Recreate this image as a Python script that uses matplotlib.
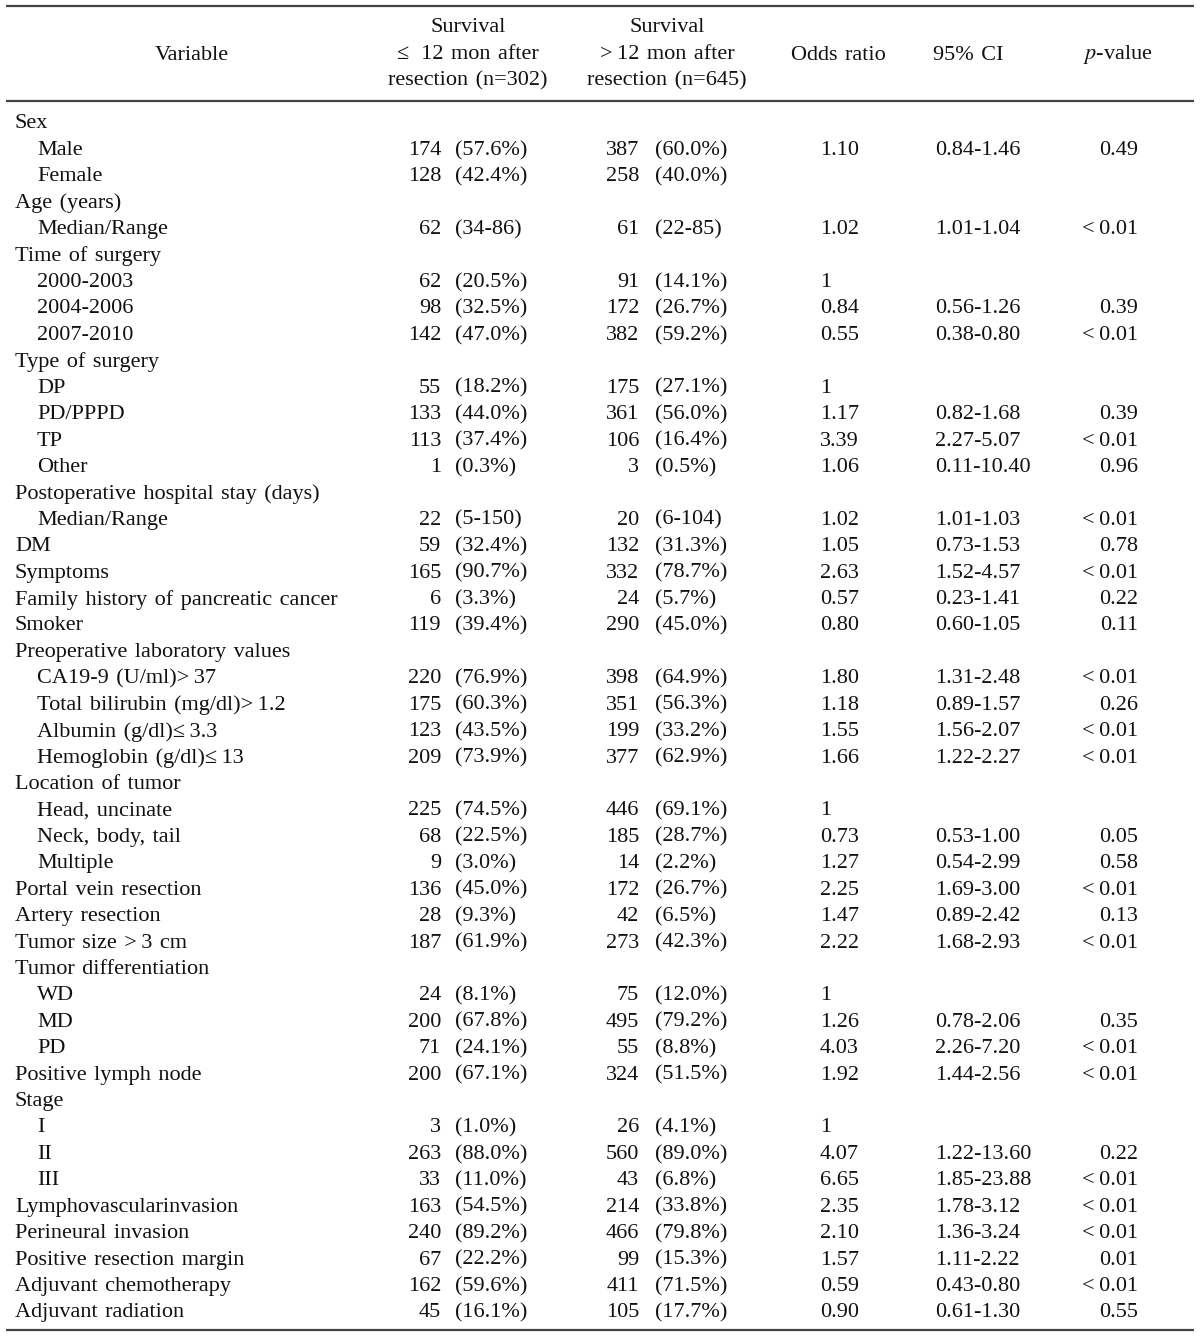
import matplotlib
matplotlib.use("Agg")
import matplotlib.pyplot as plt

plt.rcParams['font.family'] = ['Liberation Serif', 'DejaVu Serif']

# table content
labels = ["Sex", "Male", "Female", "Age (years)", "Median/Range", "Time of surgery",
          "2000-2003", "2004-2006", "2007-2010", "Type of surgery", "DP", "PD/PPPD", "TP", "Other",
          "Postoperative hospital stay (days)", "Median/Range", "DM", "Symptoms",
          "Family history of pancreatic cancer", "Smoker", "Preoperative laboratory values",
          "CA19-9 (U/ml)>37", "Total bilirubin (mg/dl)>1.2", "Albumin (g/dl)≤3.3",
          "Hemoglobin (g/dl)≤13", "Location of tumor", "Head, uncinate", "Neck, body, tail",
          "Multiple", "Portal vein resection", "Artery resection", "Tumor size >3 cm",
          "Tumor differentiation", "WD", "MD", "PD", "Positive lymph node", "Stage", "I", "II", "III",
          "Lymphovascularinvasion", "Perineural invasion", "Positive resection margin",
          "Adjuvant chemotherapy", "Adjuvant radiation"]
indent = [0, 1, 1, 0, 1, 0, 1, 1, 1, 0, 1, 1, 1, 1, 0, 1, 0, 0, 0, 0, 0, 1, 1, 1, 1, 0, 1, 1, 1,
          0, 0, 0, 0, 1, 1, 1, 0, 0, 1, 1, 1, 0, 0, 0, 0, 0]
n_short = ["", "174", "128", "", "62", "", "62", "98", "142", "", "55", "133", "113", "1", "", "22",
           "59", "165", "6", "119", "", "220", "175", "123", "209", "", "225", "68", "9", "136", "28",
           "187", "", "24", "200", "71", "200", "", "3", "263", "33", "163", "240", "67", "162", "45"]
p_short = ["", "(57.6%)", "(42.4%)", "", "(34-86)", "", "(20.5%)", "(32.5%)", "(47.0%)", "",
           "(18.2%)", "(44.0%)", "(37.4%)", "(0.3%)", "", "(5-150)", "(32.4%)", "(90.7%)", "(3.3%)",
           "(39.4%)", "", "(76.9%)", "(60.3%)", "(43.5%)", "(73.9%)", "", "(74.5%)", "(22.5%)",
           "(3.0%)", "(45.0%)", "(9.3%)", "(61.9%)", "", "(8.1%)", "(67.8%)", "(24.1%)", "(67.1%)",
           "", "(1.0%)", "(88.0%)", "(11.0%)", "(54.5%)", "(89.2%)", "(22.2%)", "(59.6%)", "(16.1%)"]
n_long = ["", "387", "258", "", "61", "", "91", "172", "382", "", "175", "361", "106", "3", "", "20",
          "132", "332", "24", "290", "", "398", "351", "199", "377", "", "446", "185", "14", "172",
          "42", "273", "", "75", "495", "55", "324", "", "26", "560", "43", "214", "466", "99", "411",
          "105"]
p_long = ["", "(60.0%)", "(40.0%)", "", "(22-85)", "", "(14.1%)", "(26.7%)", "(59.2%)", "",
          "(27.1%)", "(56.0%)", "(16.4%)", "(0.5%)", "", "(6-104)", "(31.3%)", "(78.7%)", "(5.7%)",
          "(45.0%)", "", "(64.9%)", "(56.3%)", "(33.2%)", "(62.9%)", "", "(69.1%)", "(28.7%)",
          "(2.2%)", "(26.7%)", "(6.5%)", "(42.3%)", "", "(12.0%)", "(79.2%)", "(8.8%)", "(51.5%)",
          "", "(4.1%)", "(89.0%)", "(6.8%)", "(33.8%)", "(79.8%)", "(15.3%)", "(71.5%)", "(17.7%)"]
odds = ["", "1.10", "", "", "1.02", "", "1", "0.84", "0.55", "", "1", "1.17", "3.39", "1.06", "",
        "1.02", "1.05", "2.63", "0.57", "0.80", "", "1.80", "1.18", "1.55", "1.66", "", "1", "0.73",
        "1.27", "2.25", "1.47", "2.22", "", "1", "1.26", "4.03", "1.92", "", "1", "4.07", "6.65",
        "2.35", "2.10", "1.57", "0.59", "0.90"]
ci = ["", "0.84-1.46", "", "", "1.01-1.04", "", "", "0.56-1.26", "0.38-0.80", "", "", "0.82-1.68",
      "2.27-5.07", "0.11-10.40", "", "1.01-1.03", "0.73-1.53", "1.52-4.57", "0.23-1.41",
      "0.60-1.05", "", "1.31-2.48", "0.89-1.57", "1.56-2.07", "1.22-2.27", "", "", "0.53-1.00",
      "0.54-2.99", "1.69-3.00", "0.89-2.42", "1.68-2.93", "", "", "0.78-2.06", "2.26-7.20",
      "1.44-2.56", "", "", "1.22-13.60", "1.85-23.88", "1.78-3.12", "1.36-3.24", "1.11-2.22",
      "0.43-0.80", "0.61-1.30"]
pval = ["", "0.49", "", "", "<0.01", "", "", "0.39", "<0.01", "", "", "0.39", "<0.01", "0.96", "",
        "<0.01", "0.78", "<0.01", "0.22", "0.11", "", "<0.01", "0.26", "<0.01", "<0.01", "", "",
        "0.05", "0.58", "<0.01", "0.13", "<0.01", "", "", "0.35", "<0.01", "<0.01", "", "", "0.22",
        "<0.01", "<0.01", "<0.01", "0.01", "<0.01", "0.55"]

W, H = 1200, 1337
fig = plt.figure(figsize=(W / 100, H / 100), dpi=100)
ax = fig.add_axes([0, 0, 1, 1])
ax.set_xlim(0, W)
ax.set_ylim(H, 0)
ax.axis('off')

fs = 16
col = '#111111'
line_col = '#444444'


def wide(s):
    # the source typesetting uses loose word spacing and spaced-out relation signs
    s = s.replace(" ", " \u200a")
    for sym in ("<", ">", "≤"):
        s = s.replace(sym, sym + "\u2009")
    return s


def put(x, y, s, ha):
    if s:
        ax.text(x, y, wide(s), ha=ha, va='center', fontsize=fs, color=col)


# rules
for y in (6, 101, 1330):
    ax.plot([6, 1194], [y, y], color=line_col, lw=1.6, solid_capstyle='butt')

# header
put(192, 55, "Variable", 'center')
for x, lines in ((468, ["Survival", "≤ 12 mon after", "resection (n=302)"]),
                 (667, ["Survival", ">12 mon after", "resection (n=645)"])):
    for k, s in enumerate(lines):
        put(x, 28 + k * 26.5, s, 'center')
put(838, 55, "Odds ratio", 'center')
put(968, 55, "95% CI", 'center')
ax.text(1118, 55, r"$p$-value", ha='center', va='center', fontsize=fs, color=col,
        math_fontfamily='stix')

# body
y0, dy = 124, 26.42
for i, lab in enumerate(labels):
    y = y0 + i * dy
    put(15 + 22 * indent[i], y, lab, 'left')
    put(441, y, n_short[i], 'right')
    put(455, y, p_short[i], 'left')
    put(639, y, n_long[i], 'right')
    put(655, y, p_long[i], 'left')
    put(820, y, odds[i], 'left')
    put(935, y, ci[i], 'left')
    put(1138, y, pval[i], 'right')

fig.savefig("out.png", dpi=100)
